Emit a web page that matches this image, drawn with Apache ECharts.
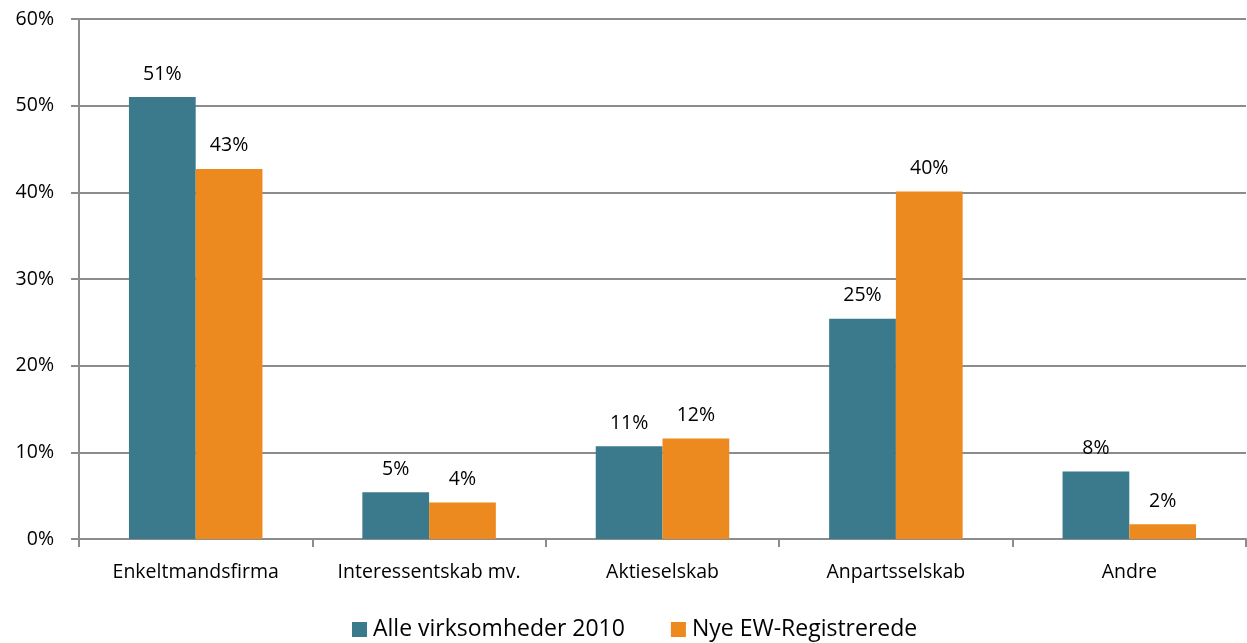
<!DOCTYPE html>
<html><head><meta charset="utf-8">
<script src="https://cdn.jsdelivr.net/npm/echarts@6/dist/echarts.min.js"></script>
<style>html,body{margin:0;padding:0;background:#fff}#c{width:1247px;height:643px}</style>
</head><body><div id="c"></div>
<script>
const categories = ['Enkeltmandsfirma', 'Interessentskab mv.', 'Aktieselskab', 'Anpartsselskab', 'Andre'];
const seriesNames = ['Alle virksomheder 2010', 'Nye EW-Registrerede'];
const alle2010 = [51.0, 5.4, 10.7, 25.4, 7.8];
const nyeEW = [42.7, 4.2, 11.6, 40.1, 1.7];
const yTicks = [0, 10, 20, 30, 40, 50, 60];

const font = 'Open Sans';
const fs = 19.5;
const chart = echarts.init(document.getElementById('c'));
const lbl = {
  show: true, position: 'top', distance: 13, color: '#000', fontFamily: font, fontSize: fs,
  formatter: p => Math.round(p.value) + '%'
};
chart.setOption({
  animation: false,
  grid: { left: 79, right: 1, top: 19, bottom: 104, containLabel: false },
  legend: {
    bottom: -3, left: 347, itemWidth: 15, itemHeight: 15, itemGap: 46,
    icon: 'rect',
    textStyle: { fontFamily: font, fontSize: 23, color: '#000', padding: [0, 0, 0, 1] },
    data: seriesNames
  },
  xAxis: {
    type: 'category', data: categories,
    axisLine: { lineStyle: { color: '#8c8c8c', width: 2 } },
    axisTick: { show: true, length: 8, lineStyle: { color: '#8c8c8c', width: 2 } },
    axisLabel: { interval: 0, color: '#000', fontFamily: font, fontSize: fs, margin: 23 }
  },
  yAxis: {
    type: 'value', min: yTicks[0], max: yTicks[yTicks.length - 1], interval: 10,
    axisLine: { show: true, lineStyle: { color: '#8c8c8c', width: 2 } },
    axisTick: { show: true, length: 8, lineStyle: { color: '#8c8c8c', width: 2 } },
    splitLine: { lineStyle: { color: '#8c8c8c', width: 2 } },
    axisLabel: { color: '#000', fontFamily: font, fontSize: fs, margin: 25, formatter: v => v + '%' }
  },
  series: [
    { name: seriesNames[0], type: 'bar', data: alle2010, barWidth: '28.6%', barGap: '0%',
      itemStyle: { color: '#3a7a8c' }, label: lbl },
    { name: seriesNames[1], type: 'bar', data: nyeEW, barWidth: '28.6%',
      itemStyle: { color: '#ec8a20' }, label: lbl }
  ]
});
</script></body></html>
